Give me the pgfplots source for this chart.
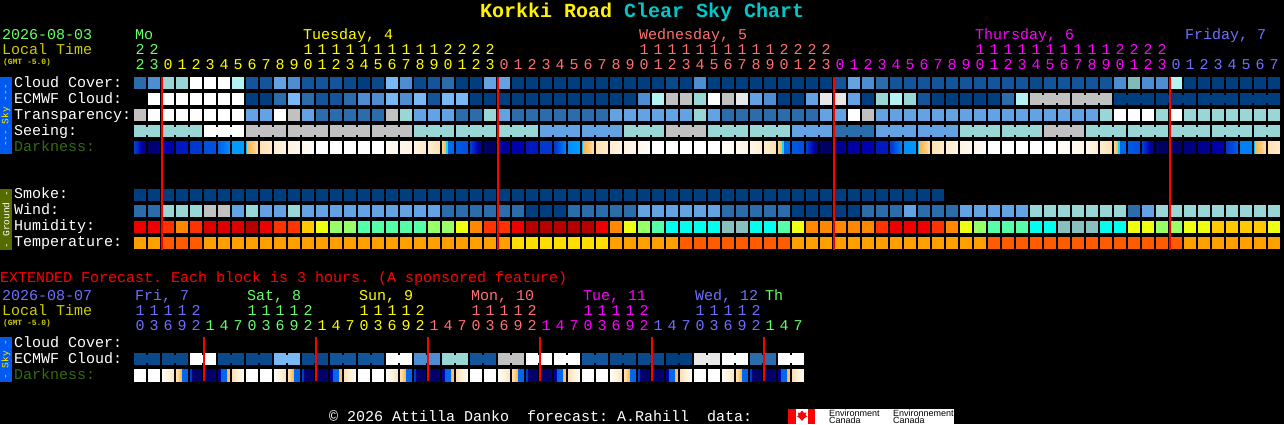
\documentclass[border=0pt]{standalone}
\usepackage{fontspec}
\usepackage{pgfplots}
\usepackage{pgfplotstable}
\pgfplotsset{compat=1.18}
\newfontfamily\cscf{Liberation Mono}
\newfontfamily\lsans{Liberation Sans}
\AtBeginDocument{\frenchspacing}
\definecolor{c0}{HTML}{003F7F}\definecolor{c1}{HTML}{13559A}\definecolor{c2}{HTML}{2B6CAB}
\definecolor{c3}{HTML}{4D8ED2}\definecolor{c4}{HTML}{63A3E4}\definecolor{c5}{HTML}{78B8F5}
\definecolor{c6}{HTML}{99D6D6}\definecolor{c7}{HTML}{B3F3F3}\definecolor{c8}{HTML}{C1C1C1}
\definecolor{c9}{HTML}{E8E8E8}\definecolor{c10}{HTML}{FFFFFF}\definecolor{c11}{HTML}{7FBBBB}
\definecolor{c12}{HTML}{0B4A8A}
\definecolor{c20}{HTML}{B60000}\definecolor{c21}{HTML}{EE0000}\definecolor{c22}{HTML}{FF3300}
\definecolor{c23}{HTML}{FF8800}\definecolor{c24}{HTML}{FFC800}\definecolor{c25}{HTML}{EEFF11}
\definecolor{c26}{HTML}{99FF66}\definecolor{c27}{HTML}{55FFAA}\definecolor{c28}{HTML}{00FFEE}
\definecolor{c29}{HTML}{88BFBF}\definecolor{c30}{HTML}{DD0000}
\definecolor{c31}{HTML}{FFA000}\definecolor{c32}{HTML}{FF5C00}\definecolor{c33}{HTML}{FFDD00}
\definecolor{tGreen}{HTML}{66FF66}\definecolor{tYel}{HTML}{FFFF00}\definecolor{tSal}{HTML}{FF7070}
\definecolor{tMag}{HTML}{FF00FF}\definecolor{tBlu}{HTML}{6F6FFF}\definecolor{tOli}{HTML}{CCCC00}
\definecolor{tDark}{HTML}{336B11}\definecolor{tCyan}{HTML}{00C8C8}
\definecolor{sideBlue}{HTML}{005AF0}\definecolor{sideOlive}{HTML}{556B00}
\pgfdeclareplotmark{cell}{\pgfpathrectangle{\pgfpoint{-6pt}{-6pt}}{\pgfpoint{12pt}{12pt}}\pgfusepathqfill}
\pgfdeclareplotmark{conn}{\pgfpathrectangle{\pgfpoint{-2pt}{-4pt}}{\pgfpoint{4pt}{8pt}}\pgfusepathqfill}
\pgfdeclareplotmark{gapm}{\pgfpathrectangle{\pgfpoint{-1pt}{-7pt}}{\pgfpoint{2pt}{14pt}}\pgfusepathqfill}
\pgfplotsset{
  blockbase/.style={only marks, scatter, scatter src=explicit symbolic,
    scatter/@pre marker code/.code={\begingroup\pgfsetfillcolor{c\pgfplotspointmeta}},
    scatter/@post marker code/.code={\endgroup}},
  cellstyle/.style={blockbase, mark=cell},
  connstyle/.style={blockbase, mark=conn},
}
% hour-block levels, one row per hour from Monday 22h
\pgfplotstableread{
h cloud ecmwf transp seeing wind humid temp
0 2 10 8 6 2 21 31
1 3 10 10 6 2 21 31
2 6 10 10 6 6 22 32
3 6 10 10 6 6 23 32
4 10 10 10 6 6 22 32
5 10 10 10 10 8 30 31
6 10 10 10 10 8 30 31
7 7 10 10 10 4 30 31
8 1 0 4 8 6 20 31
9 1 0 4 8 4 21 31
10 4 2 10 8 4 22 31
11 3 5 8 8 6 22 31
12 1 2 4 8 4 24 31
13 1 1 2 8 4 25 31
14 1 1 2 8 4 26 31
15 12 2 2 8 4 26 31
16 0 3 2 8 4 27 31
17 12 3 2 8 4 27 31
18 5 5 8 8 4 27 31
19 3 3 6 8 4 27 31
20 12 5 4 6 4 27 31
21 1 1 4 6 4 26 31
22 2 5 4 6 2 26 31
23 0 5 2 6 2 25 31
24 0 0 2 6 2 23 31
25 4 0 6 6 2 22 31
26 4 0 4 6 2 22 31
27 0 0 2 6 2 21 33
28 0 0 2 6 0 20 33
29 0 0 2 4 0 20 33
30 0 0 2 4 0 20 33
31 0 0 2 4 2 20 33
32 0 0 2 4 2 20 33
33 0 0 2 4 2 21 33
34 0 0 4 4 2 23 31
35 0 0 4 6 2 25 31
36 0 3 4 6 4 26 31
37 0 7 4 6 4 27 31
38 12 8 4 8 4 28 31
39 0 8 4 8 4 28 32
40 3 6 6 8 4 28 32
41 0 10 4 6 4 28 32
42 0 8 2 6 2 29 32
43 0 9 2 6 2 29 32
44 0 4 2 6 2 28 32
45 0 3 2 6 2 28 32
46 0 0 2 6 2 27 32
47 0 0 2 4 0 25 31
48 0 4 2 4 0 23 31
49 0 9 4 4 0 23 31
50 1 9 4 2 0 23 31
51 4 4 10 2 0 23 31
52 3 0 8 2 2 23 31
53 2 6 4 4 2 22 31
54 1 7 4 4 2 21 31
55 1 6 4 4 4 21 31
56 1 1 4 4 2 21 31
57 1 0 4 4 2 22 31
58 1 0 4 4 2 23 31
59 1 0 4 6 4 25 31
60 1 0 4 6 4 26 31
61 1 0 4 6 4 27 32
62 1 2 4 6 4 27 32
63 1 7 4 6 4 27 32
64 12 8 4 6 6 28 32
65 1 8 4 8 6 28 32
66 1 8 4 8 6 29 32
67 1 8 4 8 6 29 32
68 1 8 4 6 6 29 32
69 1 8 6 6 6 28 32
70 3 0 10 6 6 28 32
71 11 0 10 6 2 25 32
72 3 0 10 6 4 25 32
73 3 0 6 6 6 26 32
74 7 0 10 6 6 26 32
75 0 0 6 6 6 25 31
76 0 0 6 6 6 25 31
77 0 0 6 6 6 24 31
78 0 0 6 6 6 24 31
79 0 0 6 6 6 24 31
80 0 0 6 6 6 24 31
81 0 0 6 6 6 25 31
}\hourly
% extended forecast, ECMWF cloud per 3-hour block
\pgfplotstableread{
h ecmwf
0 12
1 12
2 12
3 12
4 10
5 10
6 12
7 12
8 12
9 12
10 5
11 5
12 12
13 12
14 1
15 1
16 1
17 1
18 10
19 10
20 3
21 3
22 6
23 6
24 1
25 1
26 8
27 8
28 10
29 10
30 10
31 10
32 1
33 1
34 12
35 12
36 12
37 12
38 0
39 0
40 9
41 9
42 10
43 10
44 2
45 2
46 10
47 10
}\extended
% darkness: y, column, px from, px to, value left, value right
\def\Dk#1#2#3#4#5#6{%
(\the\numexpr134+14*(#2)+#3\relax,#1)[#5] (\the\numexpr134+14*(#2)+#4\relax,#1)[#6] %
(\the\numexpr134+14*(#2)+#4\relax,\the\numexpr#1+12\relax)[#6] (\the\numexpr134+14*(#2)+#3\relax,\the\numexpr#1+12\relax)[#5] }
\def\F#1#2#3{\Dk{141}{#1}{0}{12}{#2}{#3}}
\def\Sun#1{\Dk{141}{#1}{0}{1}{57}{57}\Dk{141}{#1}{1}{12}{60}{72}}
\def\Set#1{\Dk{141}{#1}{0}{4}{68}{60}\Dk{141}{#1}{4}{6}{58}{58}\Dk{141}{#1}{6}{12}{42}{42}}
\def\G#1#2#3#4#5{\Dk{369}{#1}{#2}{#3}{#4}{#5}}
\def\Eday#1{\G{#1+0}{0}{12}{100}{100}\G{#1+1}{0}{12}{100}{100}\G{#1+2}{0}{12}{95}{74}%
\G{#1+3}{0}{6}{72}{60}\G{#1+3}{6}{12}{42}{42}\G{#1+4}{0}{2}{30}{25}\G{#1+4}{2}{12}{5}{3}\G{#1+5}{0}{12}{3}{5}%
\G{#1+6}{0}{3}{10}{16}\G{#1+6}{3}{9}{42}{42}\G{#1+6}{9}{12}{60}{68}\G{#1+7}{0}{12}{72}{95}}
\edef\darkdata{%
\F{0}{30}{5}\F{1}{4}{8}\F{2}{15}{15}\F{3}{20}{20}\F{4}{28}{28}\F{5}{36}{36}\F{6}{40}{52}\F{7}{55}{55}\Sun{8}%
\F{9}{72}{80}\F{10}{80}{85}\F{11}{85}{90}\F{12}{90}{95}\F{13}{100}{100}\F{14}{100}{100}\F{15}{100}{100}\F{16}{100}{100}\F{17}{100}{100}%
\F{18}{95}{90}\F{19}{90}{85}\F{20}{85}{78}\F{21}{80}{72}\Set{22}\F{23}{38}{36}\F{24}{30}{5}\F{25}{3}{3}\F{26}{12}{12}\F{27}{15}{15}%
\F{28}{20}{20}\F{29}{28}{28}\F{30}{28}{50}\F{31}{52}{56}\Sun{32}\F{33}{72}{80}\F{34}{80}{86}\F{35}{86}{90}\F{36}{90}{96}%
\F{37}{100}{100}\F{38}{100}{100}\F{39}{100}{100}\F{40}{100}{100}\F{41}{100}{100}\F{42}{96}{92}\F{43}{92}{88}\F{44}{88}{80}\F{45}{80}{72}%
\Set{46}\F{47}{38}{36}\F{48}{30}{5}\F{49}{3}{3}\F{50}{10}{10}\F{51}{13}{13}\F{52}{15}{15}\F{53}{20}{20}\F{54}{28}{50}\F{55}{52}{54}%
\Sun{56}\F{57}{72}{80}\F{58}{80}{86}\F{59}{86}{90}\F{60}{90}{96}\F{61}{100}{100}\F{62}{100}{100}\F{63}{100}{100}\F{64}{100}{100}\F{65}{100}{100}%
\F{66}{96}{92}\F{67}{92}{88}\F{68}{88}{80}\F{69}{80}{72}\Set{70}\F{71}{38}{36}\F{72}{30}{5}\F{73}{3}{3}\F{74}{4}{4}\F{75}{8}{8}\F{76}{10}{10}\F{77}{14}{14}%
\F{78}{28}{40}\F{79}{48}{48}\Sun{80}\F{81}{72}{80}%
\Eday{0}\Eday{8}\Eday{16}\Eday{24}\Eday{32}\Eday{40}}
\newcommand\T[4]{\node[anchor=base west,inner sep=0pt,outer sep=0pt,text=#3,font=\cscf\fontsize{15}{15}\selectfont] at ({#1*1pt},{(424-#2)*1pt}) {#4};}
\newcommand\Small[3]{\node[anchor=base west,inner sep=0pt,outer sep=0pt,text=#3,font=\cscf\bfseries\fontsize{8}{8}\selectfont] at ({#1*1pt},{(424-#2)*1pt}) {(GMT -5.0)};}
\newcommand\Dig[4]{\node[anchor=base,inner sep=0pt,outer sep=0pt,text=#3,font=\cscf\fontsize{15}{15}\selectfont] at ({(140+14*#1)*1pt},{(424-#2)*1pt}) {#4};}
\newcommand\Side[5]{\fill[#1] (0pt,{(424-#2)*1pt}) rectangle (12pt,{(424-#3)*1pt});
  \node[rotate=90,inner sep=0pt,text=#4,font=\cscf\fontsize{9.5}{9.5}\selectfont] at (6pt,{(424-(#2+#3)/2)*1pt}) {#5};}
\begin{document}
\begin{tikzpicture}
\fill[black] (0pt,0pt) rectangle (1284pt,424pt);
\begin{axis}[at={(0pt,0pt)},anchor=south west,scale only axis,width=1284pt,height=424pt,
  xmin=0,xmax=1284,ymin=0,ymax=424,y dir=reverse,hide axis,clip=false,clip mode=individual,
  point meta min=0,point meta max=100,
  colormap={dark}{[1pt] rgb255(0pt)=(0,0,88) rgb255(5pt)=(0,0,112) rgb255(10pt)=(0,0,144) rgb255(15pt)=(0,0,176)
    rgb255(20pt)=(0,24,192) rgb255(28pt)=(0,56,208) rgb255(36pt)=(0,80,224) rgb255(44pt)=(0,112,240)
    rgb255(52pt)=(0,144,255) rgb255(56pt)=(0,160,255) rgb255(58pt)=(0,224,255) rgb255(60pt)=(255,176,64)
    rgb255(72pt)=(255,224,176) rgb255(85pt)=(255,243,224) rgb255(100pt)=(255,255,255)}]
% sky rows
\addplot[cellstyle] table[x expr=\thisrow{h}*14+140,y expr=83,meta=cloud] {\hourly};
\addplot[cellstyle,restrict expr to domain={\thisrow{h}}{1:81}] table[x expr=\thisrow{h}*14+140,y expr=99,meta=ecmwf] {\hourly};
\addplot[cellstyle] table[x expr=\thisrow{h}*14+140,y expr=115,meta=transp] {\hourly};
\addplot[cellstyle] table[x expr=\thisrow{h}*14+140,y expr=131,meta=seeing] {\hourly};
% joined 3-hour blocks
\addplot[connstyle,restrict expr to domain={ifthenelse(\thisrow{h}<1,0,mod(\thisrow{h}+1,3))}{0.5:2.5}] table[x expr=\thisrow{h}*14+133,y expr=131,meta=seeing] {\hourly};
\addplot[connstyle,restrict expr to domain={ifthenelse(\thisrow{h}<64,0,mod(\thisrow{h}+2,3))}{0.5:2.5}] table[x expr=\thisrow{h}*14+133,y expr=99,meta=ecmwf] {\hourly};
% ground rows
\addplot[cellstyle] coordinates {(140,195)[0] (154,195)[0] (168,195)[0] (182,195)[0] (196,195)[0] (210,195)[0] (224,195)[0] (238,195)[0] (252,195)[0] (266,195)[0] (280,195)[0] (294,195)[0] (308,195)[0] (322,195)[0] (336,195)[0] (350,195)[0] (364,195)[0] (378,195)[0] (392,195)[0] (406,195)[0] (420,195)[0] (434,195)[0] (448,195)[0] (462,195)[0] (476,195)[0] (490,195)[0] (504,195)[0] (518,195)[0] (532,195)[0] (546,195)[0] (560,195)[0] (574,195)[0] (588,195)[0] (602,195)[0] (616,195)[0] (630,195)[0] (644,195)[0] (658,195)[0] (672,195)[0] (686,195)[0] (700,195)[0] (714,195)[0] (728,195)[0] (742,195)[0] (756,195)[0] (770,195)[0] (784,195)[0] (798,195)[0] (812,195)[0] (826,195)[0] (840,195)[0] (854,195)[0] (868,195)[0] (882,195)[0] (896,195)[0] (910,195)[0] (924,195)[0] (938,195)[0]};
\addplot[cellstyle] table[x expr=\thisrow{h}*14+140,y expr=211,meta=wind] {\hourly};
\addplot[cellstyle] table[x expr=\thisrow{h}*14+140,y expr=227,meta=humid] {\hourly};
\addplot[cellstyle] table[x expr=\thisrow{h}*14+140,y expr=243,meta=temp] {\hourly};
% extended
\addplot[cellstyle] table[x expr=\thisrow{h}*14+140,y expr=359,meta=ecmwf] {\extended};
\addplot[connstyle,restrict expr to domain={mod(\thisrow{h},2)}{0.5:1.5}] table[x expr=\thisrow{h}*14+133,y expr=359,meta=ecmwf] {\extended};
% darkness rows
\edef\tmp{\noexpand\addplot[patch,patch type=rectangle,shader=interp,point meta=explicit] coordinates {\darkdata};}\tmp
% clean gaps between the shaded darkness blocks
\addplot[only marks,mark=gapm,black] table[x expr=\thisrow{h}*14+133,y expr=147] {\hourly};
\addplot[only marks,mark=gapm,black] coordinates {(1281,147)};
\addplot[only marks,mark=gapm,black] table[x expr=\thisrow{h}*14+133,y expr=375] {\extended};
\addplot[only marks,mark=gapm,black] coordinates {(805,375)};
% midnight markers
\addplot[red,line width=2pt,forget plot] coordinates {(162,77) (162,250)};
\addplot[red,line width=2pt,forget plot] coordinates {(498,77) (498,250)};
\addplot[red,line width=2pt,forget plot] coordinates {(834,77) (834,250)};
\addplot[red,line width=2pt,forget plot] coordinates {(1170,77) (1170,250)};
\addplot[red,line width=2pt,forget plot] coordinates {(204,337) (204,381)};
\addplot[red,line width=2pt,forget plot] coordinates {(316,337) (316,381)};
\addplot[red,line width=2pt,forget plot] coordinates {(428,337) (428,381)};
\addplot[red,line width=2pt,forget plot] coordinates {(540,337) (540,381)};
\addplot[red,line width=2pt,forget plot] coordinates {(652,337) (652,381)};
\addplot[red,line width=2pt,forget plot] coordinates {(764,337) (764,381)};
\end{axis}
% title
\node[anchor=base west,inner sep=0pt,text=yellow,font=\cscf\bfseries\fontsize{20}{20}\selectfont] at (480pt,{(424-18)*1pt}) {Korkki Road};
\node[anchor=base west,inner sep=0pt,text=tCyan,font=\cscf\bfseries\fontsize{20}{20}\selectfont] at (624pt,{(424-18)*1pt}) {Clear Sky Chart};
% left column
\T{2}{40}{tGreen}{2026-08-03}
\T{2}{55}{tOli}{Local Time}
\Small{3}{65}{tOli}
\T{135}{40}{tGreen}{Mo}
\T{303}{40}{tYel}{Tuesday, 4}
\T{639}{40}{tSal}{Wednesday, 5}
\T{975}{40}{tMag}{Thursday, 6}
\T{1185}{40}{tBlu}{Friday, 7}
\T{14}{87}{white}{Cloud Cover:}
\T{14}{103}{white}{ECMWF Cloud:}
\T{14}{119}{white}{Transparency:}
\T{14}{135}{white}{Seeing:}
\T{14}{151}{tDark}{Darkness:}
\T{14}{198}{white}{Smoke:}
\T{14}{214}{white}{Wind:}
\T{14}{230}{white}{Humidity:}
\T{14}{246}{white}{Temperature:}
\Side{sideBlue}{77}{154}{yellow}{--- Sky ---}
\Side{sideOlive}{189}{250}{white}{- Ground -}
\Side{sideBlue}{337}{382}{yellow}{- Sky -}
% hour digits
\foreach \c in {0,...,81}{%
  \pgfmathtruncatemacro\hh{mod(22+\c,24)}%
  \pgfmathtruncatemacro\tn{int(\hh/10)}%
  \pgfmathtruncatemacro\on{mod(\hh,10)}%
  \ifnum\c<2 \def\cc{tGreen}\else\ifnum\c<26 \def\cc{tYel}\else\ifnum\c<50 \def\cc{tSal}\else\ifnum\c<74 \def\cc{tMag}\else\def\cc{tBlu}\fi\fi\fi\fi
  \ifnum\hh>9 \Dig{\c}{55}{\cc}{\tn}\fi
  \Dig{\c}{70}{\cc}{\on}%
}
% extended text
\T{0}{282}{red}{EXTENDED Forecast. Each block is 3 hours. (A sponsored feature)}
\T{2}{300}{tBlu}{2026-08-07}
\T{2}{315}{tOli}{Local Time}
\Small{3}{325}{tOli}
\T{135}{300}{tBlu}{Fri, 7}
\T{247}{300}{tGreen}{Sat, 8}
\T{359}{300}{tYel}{Sun, 9}
\T{471}{300}{tSal}{Mon, 10}
\T{583}{300}{tMag}{Tue, 11}
\T{695}{300}{tBlu}{Wed, 12}
\T{765}{300}{tGreen}{Th}
\T{14}{347}{white}{Cloud Cover:}
\T{14}{363}{white}{ECMWF Cloud:}
\T{14}{379}{tDark}{Darkness:}
\foreach \c in {0,...,47}{%
  \pgfmathtruncatemacro\hh{mod(10+3*\c,24)}%
  \pgfmathtruncatemacro\tn{int(\hh/10)}%
  \pgfmathtruncatemacro\on{mod(\hh,10)}%
  \ifnum\c<5 \def\cc{tBlu}\else\ifnum\c<13 \def\cc{tGreen}\else\ifnum\c<21 \def\cc{tYel}\else\ifnum\c<29 \def\cc{tSal}\else\ifnum\c<37 \def\cc{tMag}\else\ifnum\c<45 \def\cc{tBlu}\else\def\cc{tGreen}\fi\fi\fi\fi\fi\fi
  \ifnum\hh>9 \Dig{\c}{315}{\cc}{\tn}\fi
  \Dig{\c}{330}{\cc}{\on}%
}
% footer
\T{329}{421}{white}{© 2026 Attilla Danko\ \ forecast: A.Rahill\ \ data:}
\fill[white] (788pt,0pt) rectangle (954pt,15pt);
\fill[red] (788pt,0pt) rectangle (796pt,15pt);
\fill[red] (808pt,0pt) rectangle (815pt,15pt);
\fill[red] (802pt,13.5pt) -- (804pt,11pt) -- (806.5pt,11.5pt) -- (805.5pt,9pt) -- (807pt,7.5pt) -- (804pt,5.5pt) -- (802.5pt,3.5pt) -- (801.5pt,3.5pt) -- (800pt,5.5pt) -- (797pt,7.5pt) -- (798.5pt,9pt) -- (797.5pt,11.5pt) -- (800pt,11pt) -- cycle;
\node[anchor=base west,inner sep=0pt,text=black,font=\lsans\fontsize{9}{9}\selectfont] at (829pt,8pt) {Environment};
\node[anchor=base west,inner sep=0pt,text=black,font=\lsans\fontsize{9}{9}\selectfont] at (829pt,1pt) {Canada};
\node[anchor=base west,inner sep=0pt,text=black,font=\lsans\fontsize{9}{9}\selectfont] at (893pt,8pt) {Environnement};
\node[anchor=base west,inner sep=0pt,text=black,font=\lsans\fontsize{9}{9}\selectfont] at (893pt,1pt) {Canada};
\end{tikzpicture}
\end{document}
